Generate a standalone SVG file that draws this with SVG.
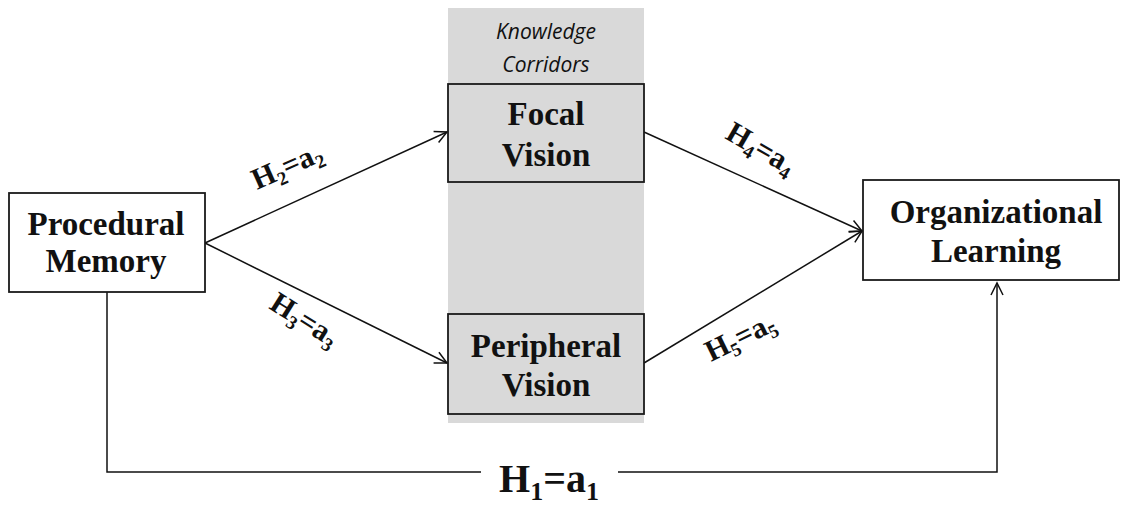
<svg xmlns="http://www.w3.org/2000/svg" width="1129" height="507" viewBox="0 0 1129 507">
<style>
.box{stroke:#1a1a1a;stroke-width:1.8}
.w{fill:#ffffff}
.g{fill:#d9d9d9}
.t{font-family:"Liberation Serif","Times New Roman",serif;font-weight:bold;font-size:33px;fill:#111;text-anchor:middle}
.lbl{font-family:"Liberation Serif","Times New Roman",serif;font-weight:bold;font-size:30px;fill:#111}
.sub{font-size:19px}
.kc{font-family:"Open Sans","Liberation Sans",sans-serif;font-style:italic;font-size:21px;fill:#111;text-anchor:middle}
.c{fill:none;stroke:#111;stroke-width:1.5}
</style>
<defs>
<marker id="arr" markerUnits="userSpaceOnUse" markerWidth="16" markerHeight="16" viewBox="0 0 16 16" refX="14" refY="8" orient="auto">
<path d="M2,2 L14,8 L2,14" fill="none" stroke="#111" stroke-width="1.5"/>
</marker>
</defs>
<rect x="448" y="8" width="196" height="415" fill="#d9d9d9"/>
<text class="kc" x="546" y="39">Knowledge</text>
<text class="kc" x="546" y="72">Corridors</text>
<g id="connectors">
<line class="c" x1="205" y1="243" x2="447" y2="132" marker-end="url(#arr)"/>
<line class="c" x1="205" y1="243" x2="447" y2="363" marker-end="url(#arr)"/>
<line class="c" x1="644" y1="132" x2="862" y2="231" marker-end="url(#arr)"/>
<line class="c" x1="644" y1="363" x2="862" y2="231" marker-end="url(#arr)"/>
<polyline class="c" points="107,292 107,472 481,472"/>
<polyline class="c" points="618,472 997,472 997,283" marker-end="url(#arr)"/>
<text class="lbl" transform="translate(257,190) rotate(-24)">H<tspan class="sub" dy="6">2</tspan><tspan dy="-6">=a</tspan><tspan class="sub" dy="6">2</tspan></text>
<text class="lbl" transform="translate(268,308) rotate(32)">H<tspan class="sub" dy="6">3</tspan><tspan dy="-6">=a</tspan><tspan class="sub" dy="6">3</tspan></text>
<text class="lbl" transform="translate(724,138) rotate(30)">H<tspan class="sub" dy="6">4</tspan><tspan dy="-6">=a</tspan><tspan class="sub" dy="6">4</tspan></text>
<text class="lbl" transform="translate(711,362) rotate(-26)">H<tspan class="sub" dy="6">5</tspan><tspan dy="-6">=a</tspan><tspan class="sub" dy="6">5</tspan></text>
<text class="lbl" x="549" y="492" text-anchor="middle" style="font-size:40px">H<tspan dy="8" style="font-size:26px">1</tspan><tspan dy="-8">=a</tspan><tspan dy="8" style="font-size:26px">1</tspan></text>
</g>
<g id="procedural">
<rect class="box w" x="9" y="193" width="196" height="99"/>
<text class="t" x="106" y="235">Procedural</text>
<text class="t" x="106" y="272">Memory</text>
</g>
<g id="focal">
<rect class="box g" x="448" y="84" width="196" height="98"/>
<text class="t" x="546" y="125">Focal</text>
<text class="t" x="546" y="166">Vision</text>
</g>
<g id="peripheral">
<rect class="box g" x="448" y="314" width="196" height="100"/>
<text class="t" x="546" y="357">Peripheral</text>
<text class="t" x="546" y="396">Vision</text>
</g>
<g id="organizational">
<rect class="box w" x="863" y="180" width="256" height="100"/>
<text class="t" x="996" y="223">Organizational</text>
<text class="t" x="996" y="262">Learning</text>
</g>
</svg>
